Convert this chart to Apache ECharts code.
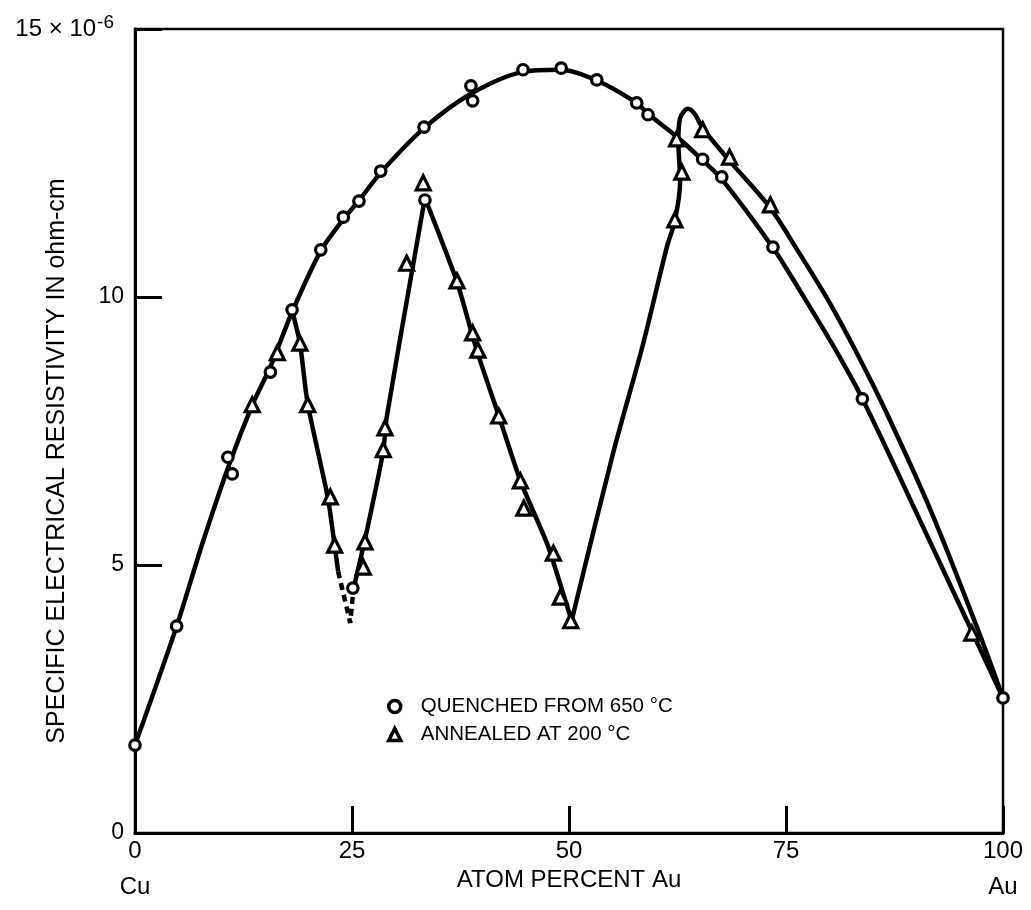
<!DOCTYPE html>
<html>
<head>
<meta charset="utf-8">
<script src="https://cdn.jsdelivr.net/npm/echarts@6/dist/echarts.min.js"></script>
<style>
html, body { margin: 0; padding: 0; background: #fff; }
#chart { width: 1031px; height: 910px; }
</style>
</head>
<body>
<div id="chart"></div>
<script>
// axis ticks and end labels
const xTicks = [0, 25, 50, 75, 100]
const xEndLabels = { 0: 'Cu', 100: 'Au' }
const yTicks = [0, 5, 10, 15]
const seriesNames = ['QUENCHED FROM 650 °C', 'ANNEALED AT 200 °C']

// measured points [atom % Au, resistivity x1e-6]
const quenched = [
  [0, 1.64], [4.8, 3.86], [10.7, 7.01], [11.2, 6.7], [15.6, 8.6], [18.1, 9.76],
  [21.4, 10.88], [24.0, 11.49], [25.1, 4.57], [25.8, 11.79], [28.3, 12.35],
  [33.3, 13.17], [33.4, 11.81], [38.7, 13.94], [38.9, 13.66], [44.7, 14.24],
  [49.1, 14.27], [53.2, 14.05], [57.8, 13.62], [59.1, 13.4], [65.4, 12.57],
  [67.6, 12.24], [73.5, 10.93], [83.8, 8.1], [100, 2.52]
]
const annealed = [
  [13.5, 7.99], [16.4, 8.96], [19.0, 9.14], [19.9, 7.99], [22.5, 6.27], [23.0, 5.37],
  [26.3, 4.96], [26.5, 5.43], [28.6, 7.15], [28.8, 7.56], [31.3, 10.63], [33.2, 12.13],
  [37.1, 10.3], [38.9, 9.33], [39.5, 9.01], [41.9, 7.78], [44.4, 6.57], [44.8, 6.06],
  [48.2, 5.22], [49.0, 4.4], [50.2, 3.96], [62.2, 11.44], [63.0, 12.33], [62.4, 12.95],
  [65.4, 13.12], [68.5, 12.61], [73.2, 11.72], [96.4, 3.73]
]

// hand drawn curves
const quenchedCurve = [
  [0, 1.64], [4.8, 3.86], [7.8, 5.42], [10.9, 6.9], [13.5, 7.98], [15.6, 8.7],
  [18.1, 9.72], [21.4, 10.86], [24.0, 11.45], [25.8, 11.8], [28.3, 12.32],
  [33.3, 13.15], [38.8, 13.8], [44.7, 14.2], [49.1, 14.24], [53.2, 14.04],
  [57.8, 13.62], [59.1, 13.42], [62.5, 12.98], [65.4, 12.55], [67.6, 12.2],
  [73.5, 10.92], [76.6, 10.12], [80.4, 9.1], [83.8, 8.1], [90.1, 5.95], [100, 2.52]
]
const annealedDrop = [[18.1, 9.75], [19.0, 9.14], [19.9, 8.0], [22.2, 6.27], [23.0, 5.37], [23.4, 4.88]]
const annealedGap = [[23.4, 4.88], [24.8, 3.92], [25.1, 4.45]]
const annealedRise = [[25.1, 4.5], [26.7, 5.63], [28.6, 7.13], [29.0, 7.76], [32.0, 10.56], [33.4, 11.85]]
const annealedFall = [
  [33.4, 11.85], [37.1, 10.28], [39.4, 8.99], [42.0, 7.74], [44.4, 6.57],
  [47.5, 5.39], [49.0, 4.64], [50.3, 3.96]
]
const annealedRight = [
  [50.3, 3.96], [55.1, 7.1], [58.5, 9.1], [61.3, 10.95], [62.2, 11.42], [62.8, 12.16],
  [62.6, 12.9], [62.8, 13.34], [63.7, 13.51], [64.5, 13.41], [65.4, 13.15], [68.5, 12.54],
  [73.2, 11.66], [76.6, 10.8], [80.0, 9.9], [83.2, 8.94], [86.7, 7.8], [91.8, 5.97],
  [97.0, 3.84], [100, 2.52]
]

const font = 'Liberation Sans, Arial, Helvetica, sans-serif'

function curve(data, extra) {
  return Object.assign({
    type: 'line',
    data: data,
    smooth: 0.3,
    showSymbol: false,
    silent: true,
    z: 2,
    lineStyle: { color: '#000', width: 4.5 }
  }, extra || {})
}

const options = {
  animation: false,
  backgroundColor: '#fff',
  textStyle: { fontFamily: font, color: '#000' },
  grid: {
    left: 135, right: 28, top: 29, bottom: 77,
    outerBoundsMode: 'none',
    show: true, borderColor: '#000', borderWidth: 2.5
  },
  legend: {
    orient: 'vertical',
    left: 382, top: 691,
    itemWidth: 12, itemHeight: 12, itemGap: 7,
    data: seriesNames,
    itemStyle: { color: '#fff', borderColor: '#000', borderWidth: 3.5 },
    textStyle: { fontSize: 20.5, lineHeight: 20, color: '#000', fontFamily: font, padding: [0, 0, 0, 15] }
  },
  xAxis: {
    type: 'value', min: 0, max: 100, interval: 25,
    name: 'ATOM PERCENT Au', nameLocation: 'middle', nameGap: 35, nameMoveOverlap: false,
    nameTextStyle: { fontSize: 24, color: '#000' },
    axisLine: { lineStyle: { color: '#000', width: 3 } },
    axisTick: { inside: true, length: 27, lineStyle: { color: '#000', width: 3 } },
    splitLine: { show: false },
    axisLabel: {
      margin: 0, fontSize: 24, lineHeight: 36, color: '#000',
      formatter: v => xTicks.includes(v) ? (xEndLabels[v] ? v + '\n' + xEndLabels[v] : String(v)) : ''
    }
  },
  yAxis: {
    type: 'value', min: 0, max: 15, interval: 5,
    name: 'SPECIFIC ELECTRICAL RESISTIVITY IN ohm-cm', nameLocation: 'middle', nameGap: 65, nameMoveOverlap: false,
    nameTextStyle: { fontSize: 25, color: '#000', padding: [0, 60, 0, 0] },
    axisLine: { show: true, lineStyle: { color: '#000', width: 3 } },
    axisTick: { show: true, inside: true, length: 27, lineStyle: { color: '#000', width: 3 } },
    splitLine: { show: false },
    axisLabel: {
      margin: 11, fontSize: 23, color: '#000',
      formatter: v => v === yTicks[yTicks.length - 1] ? '{a|' + v + ' × 10}{s|-6}' : String(v),
      rich: {
        a: { fontSize: 24, color: '#000', fontFamily: font },
        s: { fontSize: 19, color: '#000', fontFamily: font, padding: [0, 10, 12, 1] }
      }
    }
  },
  series: [
    curve(quenchedCurve),
    curve(annealedDrop, { smooth: 0.2 }),
    curve(annealedGap, { smooth: false, lineStyle: { color: '#000', width: 4.5, type: [7, 5] } }),
    curve(annealedRise, { smooth: 0.2 }),
    curve(annealedFall, { smooth: 0.2 }),
    curve(annealedRight),
    {
      name: seriesNames[0], type: 'scatter', data: quenched, z: 5,
      symbol: 'circle', symbolSize: 10.5,
      itemStyle: { color: '#fff', borderColor: '#000', borderWidth: 3.2, opacity: 1 }
    },
    {
      name: seriesNames[1], type: 'scatter', data: annealed, z: 5,
      symbol: 'triangle', symbolSize: 14,
      itemStyle: { color: '#fff', borderColor: '#000', borderWidth: 3.2, opacity: 1 }
    }
  ]
}

const chart = echarts.init(document.getElementById('chart'))
chart.setOption(options)
window.addEventListener('resize', () => chart.resize())
</script>
</body>
</html>
